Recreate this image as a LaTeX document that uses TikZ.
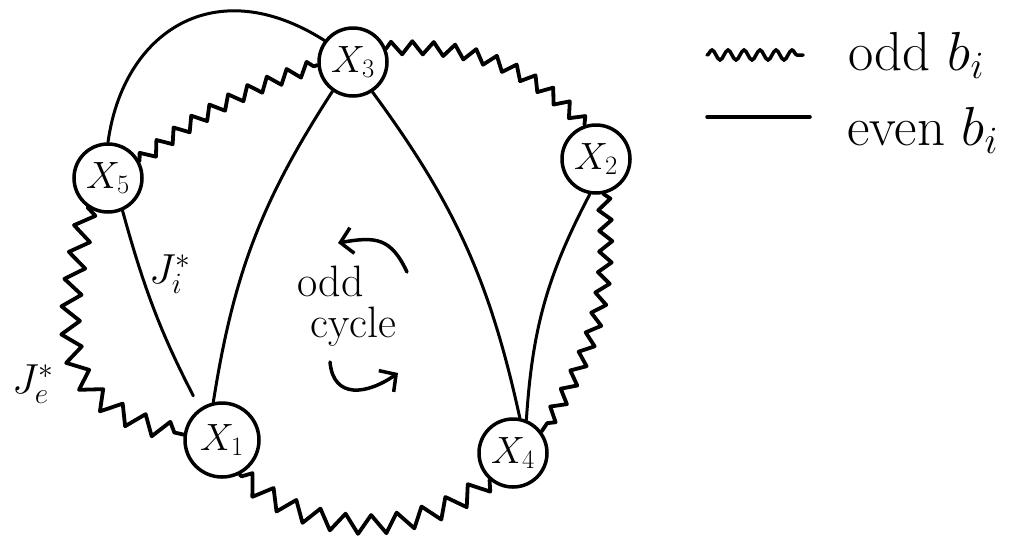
\documentclass[tikz,border=0pt]{standalone}
\usepackage{fix-cm}
\usetikzlibrary{decorations.pathmorphing,arrows.meta}

\begin{document}
\begin{tikzpicture}[
  x=1pt, y=1pt,
  vert/.style={circle, draw, line width=3.5pt, minimum size=68pt, inner sep=0pt,
               font=\fontsize{38}{40}\selectfont},
  evenedge/.style={line width=3pt, line cap=round},
  oddedge/.style={line width=3.8pt, line join=round, line cap=round, decorate,
                  decoration={zigzag, segment length=21pt, amplitude=6.5pt}},
  bigwave/.style={oddedge, decoration={segment length=27pt, amplitude=9.5pt}},
  keywave/.style={line width=3.5pt, line cap=round, decorate,
                  decoration={snake, segment length=16pt, amplitude=5pt}},
  hand/.style={inner sep=0pt, font=\fontsize{44}{48}\selectfont},
  keytext/.style={inner sep=0pt, font=\fontsize{55}{60}\selectfont},
  jlabel/.style={inner sep=0pt, font=\fontsize{42}{46}\selectfont},
  cyclearrow/.style={line width=3.5pt, line cap=round,
                     -{Straight Barb[length=12pt, width=26pt]}}
]
\useasboundingbox (0,0) rectangle (1032,-539);

\node[vert] (x3) at (353,-62) {$X_3$};
\node[vert] (x5) at (108,-178) {$X_5$};
\node[vert] (x2) at (596,-159) {$X_2$};
\node[vert, minimum size=74pt] (x1) at (222,-440) {$X_1$};
\node[vert] (x4) at (513,-453) {$X_4$};

\draw[evenedge] (x5.90) .. controls +(15,110) and +(-110,70) .. (x3.143);
\draw[evenedge, shorten >=14pt] (x5.294) to[bend right=6] (x1.125);
\draw[evenedge] (x1.103) to[bend left=12] (x3.235);
\draw[evenedge] (x3.303) to[bend left=12] (x4.79);
\draw[evenedge] (x2.260) to[bend right=12] (x4.68);

\draw[oddedge] (x5.28) to[bend left=10] (x3.185);
\draw[oddedge] (x3.22) to[bend left=25] (x2.108);
\draw[oddedge] (x2.282) to[bend left=20] (x4.37);
\draw[bigwave] (x4.229) to[bend left=40] (x1.297);
\draw[bigwave] (x5.235) to[out=258, in=168, looseness=1.4] (x1.172);

\node[jlabel] (ji) at (170,-274) {$J_i^{*}$};
\node[jlabel] (je) at (33,-384) {$J_e^{*}$};

\node[hand, anchor=base west] (oddtxt) at (297,-296) {odd};
\node[hand, anchor=base west] (cycletxt) at (310,-337) {cycle};
\coordinate (upS) at (407,-272);
\coordinate (upE) at (338,-243);
\coordinate (dnS) at (330,-362);
\coordinate (dnE) at (398,-373);
\draw[cyclearrow] (upS) to[out=115, in=10, looseness=1.3] (upE);
\draw[cyclearrow] (dnS) to[out=275, in=215, looseness=1.4] (dnE);

\coordinate (oddA) at (707,-55);
\coordinate (oddB) at (803,-55);
\coordinate (evenA) at (707,-117);
\coordinate (evenB) at (810,-117);
\draw[keywave] (oddA) -- (oddB);
\draw[evenedge, line width=3.5pt] (evenA) -- (evenB);
\node[keytext, anchor=base west] (oddkey) at (848,-70) {odd $b_i$};
\node[keytext, anchor=base west] (evenkey) at (847,-145) {even $b_i$};
\end{tikzpicture}
\end{document}
